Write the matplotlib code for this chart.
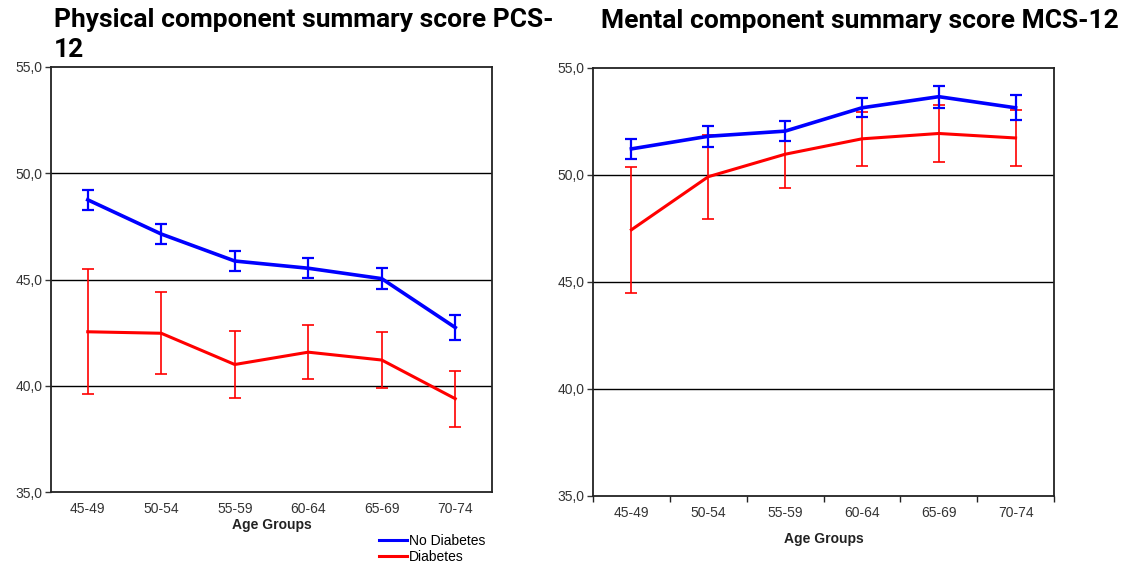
import numpy as np
import matplotlib
matplotlib.use('Agg')
from matplotlib import pyplot as plt
from matplotlib.lines import Line2D

age_groups = ['45-49', '50-54', '55-59', '60-64', '65-69', '70-74']

# PCS-12
pcs_no_diab = [48.75, 47.14, 45.87, 45.53, 45.04, 42.74]
pcs_no_diab_err = [0.47, 0.48, 0.45, 0.48, 0.51, 0.58]
pcs_diab = [42.54, 42.47, 41.00, 41.58, 41.21, 39.39]
pcs_diab_err = [2.95, 1.92, 1.56, 1.28, 1.31, 1.31]

# MCS-12
mcs_no_diab = [51.22, 51.81, 52.05, 53.14, 53.66, 53.14]
mcs_no_diab_err = [0.48, 0.48, 0.47, 0.45, 0.51, 0.59]
mcs_diab = [47.44, 49.92, 50.97, 51.69, 51.94, 51.73]
mcs_diab_err = [2.94, 1.97, 1.56, 1.25, 1.35, 1.29]

yticks = [35, 40, 45, 50, 55]

plt.rcParams['font.family'] = ['Liberation Sans', 'DejaVu Sans']

fig = plt.figure(figsize=(11.33, 5.65), dpi=100)
W, H = 1133, 565


def make_axes(x0, x1, y0, y1):
    return fig.add_axes([x0 / W, 1 - y1 / H, (x1 - x0) / W, (y1 - y0) / H])


def draw(ax, no_diab, no_err, diab, diab_err, xticks_marks):
    x = np.arange(len(age_groups))
    ax.errorbar(x, diab, yerr=diab_err, color='#ff0000', lw=2.2, elinewidth=1.2,
                capsize=4, capthick=1.2, zorder=3)
    ax.errorbar(x, no_diab, yerr=no_err, color='#0000ff', lw=2.6, elinewidth=1.6,
                capsize=4, capthick=1.6, zorder=4)
    ax.set_xlim(-0.5, len(age_groups) - 0.5)
    ax.set_ylim(35, 55)
    ax.set_yticks(yticks)
    ax.yaxis.set_major_formatter(matplotlib.ticker.FuncFormatter(lambda v, p: ('%.1f' % v).replace('.', ',')))
    for v in [40, 45, 50]:
        ax.axhline(v, color='black', lw=1.0, zorder=1)
    ax.set_xticks(x)
    ax.set_xticklabels(age_groups)
    ax.tick_params(axis='x', length=0, labelsize=10, colors='#333333', pad=7)
    ax.tick_params(axis='y', length=4, width=1, labelsize=10, colors='#333333', direction='out', pad=2)
    if xticks_marks:
        ax.set_xticks(np.arange(len(age_groups) + 1) - 0.5, minor=True)
        ax.tick_params(axis='x', which='minor', length=4, width=1, color='#222222')
    for s in ax.spines.values():
        s.set_color('#222222')
        s.set_linewidth(1.3)
    ax.set_xlabel('Age Groups', fontsize=10, fontweight='bold', color='#222222')


ax1 = make_axes(51, 492, 67, 492)
draw(ax1, pcs_no_diab, pcs_no_diab_err, pcs_diab, pcs_diab_err, False)
ax1.xaxis.labelpad = 2

ax2 = make_axes(593, 1054, 68, 496)
draw(ax2, mcs_no_diab, mcs_no_diab_err, mcs_diab, mcs_diab_err, True)
ax2.xaxis.labelpad = 9

fig.text(54 / W, 1 - 8 / H, 'Physical component summary score PCS-\n12', ha='left', va='top',
         fontsize=19, fontweight='bold', family='Roboto', linespacing=1.3)
fig.text(601 / W, 1 - 9 / H, 'Mental component summary score MCS-12', ha='left', va='top',
         fontsize=19, fontweight='bold', family='Roboto')

handles = [Line2D([], [], color='#0000ff', lw=2.2), Line2D([], [], color='#ff0000', lw=2.2)]
fig.legend(handles, ['No Diabetes', 'Diabetes'], loc='upper left', bbox_to_anchor=(372 / W, 1 - 527 / H),
           frameon=False, fontsize=10, handlelength=2.0, handletextpad=0.15,
           labelspacing=0.15, borderpad=0)

fig.savefig('out.png', dpi=100)
